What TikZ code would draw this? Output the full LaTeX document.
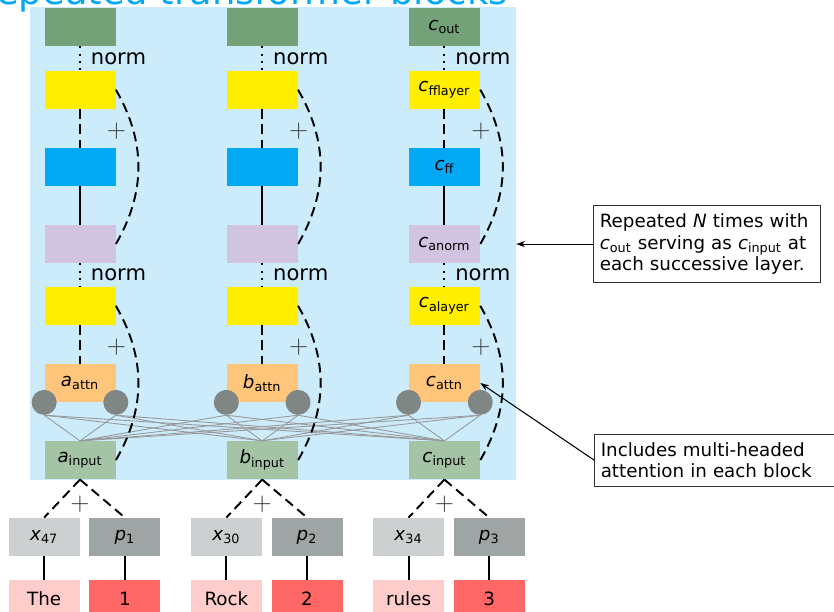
\documentclass[tikz,border=0pt]{standalone}
\usepackage{fontspec}
\setmainfont{DejaVu Sans}
\usepackage{xcolor}
\definecolor{outgreen}{RGB}{116,162,120}
\definecolor{layeryellow}{RGB}{255,238,0}
\definecolor{ffblue}{RGB}{3,169,244}
\definecolor{normlilac}{RGB}{209,196,225}
\definecolor{attnorange}{RGB}{255,198,123}
\definecolor{inputgreen}{RGB}{165,196,165}
\definecolor{toklight}{RGB}{204,208,209}
\definecolor{posgray}{RGB}{159,164,164}
\definecolor{wordpink}{RGB}{255,204,204}
\definecolor{numred}{RGB}{255,102,102}
\definecolor{headgray}{RGB}{127,134,132}
\definecolor{bgblue}{RGB}{204,236,252}
\usepackage{tikz}
\usetikzlibrary{arrows.meta, positioning, calc, backgrounds}
\newcommand{\blockfont}{\fontsize{10.4}{12.4}\selectfont}
\newcommand{\vsub}[2]{\textit{#1}\textsubscript{#2}}
\tikzset{
  outbox/.style={fill=outgreen, minimum width=1.42cm, minimum height=0.76cm,
    inner sep=0pt, font=\blockfont},
  layerbox/.style={fill=layeryellow, minimum width=1.42cm, minimum height=0.76cm,
    inner sep=0pt, font=\blockfont},
  ffbox/.style={fill=ffblue, minimum width=1.42cm, minimum height=0.76cm,
    inner sep=0pt, font=\blockfont},
  anormbox/.style={fill=normlilac, minimum width=1.42cm, minimum height=0.76cm,
    inner sep=0pt, font=\blockfont},
  attnbox/.style={fill=attnorange, minimum width=1.42cm, minimum height=0.76cm,
    inner sep=0pt, font=\blockfont},
  inputbox/.style={fill=inputgreen, minimum width=1.42cm, minimum height=0.76cm,
    inner sep=0pt, font=\blockfont},
  tokbox/.style={fill=toklight, minimum width=1.42cm, minimum height=0.76cm,
    inner sep=0pt, font=\blockfont},
  posbox/.style={fill=posgray, minimum width=1.42cm, minimum height=0.76cm,
    inner sep=0pt, font=\blockfont},
  wordbox/.style={fill=wordpink, minimum width=1.42cm, minimum height=0.74cm,
    inner sep=0pt, font=\blockfont},
  numbox/.style={fill=numred, minimum width=1.42cm, minimum height=0.74cm,
    inner sep=0pt, font=\blockfont},
  headdot/.style={circle, fill=headgray, minimum size=0.5cm, inner sep=0pt},
  notebox/.style={draw=black!80, fill=white, line width=0.6pt, text width=4.3cm,
    align=left, inner xsep=0.12cm, inner ysep=0.16cm, font=\blockfont},
  titletext/.style={font=\fontsize{21}{21}\selectfont, text=ffblue, inner sep=0pt},
  plussign/.style={font=\fontsize{15}{15}\selectfont, inner sep=0pt, text=black!80},
  plusmark/.style={plussign, xshift=0.73cm, yshift=-0.06cm},
  normlabel/.style={font=\fontsize{12}{12}\selectfont, inner sep=0pt, right=0.2cm},
  resline/.style={line width=1.1pt, dash pattern=on 5.5pt off 3.2pt},
  normline/.style={line width=1.1pt, dash pattern=on 1.1pt off 3.1pt},
  plainline/.style={line width=1.1pt},
  fanline/.style={line width=0.5pt, color=black!40},
  notearrow/.style={-{Stealth[length=5pt,width=3.5pt]}, line width=0.6pt}
}

\begin{document}
\begin{tikzpicture}
  \useasboundingbox (0,0) rectangle (16.68,-12.24);

  % column a
  \node[outbox] (aout) at (1.60,-0.54) {};
  \node[layerbox, below=0.48cm of aout]    (afflayer) {};
  \node[ffbox,    below=0.77cm of afflayer] (aff)     {};
  \node[anormbox, below=0.77cm of aff]      (anorm)   {};
  \node[layerbox, below=0.46cm of anorm]    (aalayer) {};
  \node[attnbox,  below=0.77cm of aalayer]  (aattn)   {\vsub{a}{attn}};
  \node[inputbox, below=0.77cm of aattn]    (ain)     {\vsub{a}{input}};

  % column b
  \node[outbox,   right=2.21cm of aout]     (bout)    {};
  \node[layerbox, below=0.48cm of bout]     (bfflayer) {};
  \node[ffbox,    below=0.77cm of bfflayer] (bff)     {};
  \node[anormbox, below=0.77cm of bff]      (bnorm)   {};
  \node[layerbox, below=0.46cm of bnorm]    (balayer) {};
  \node[attnbox,  below=0.77cm of balayer]  (battn)   {\vsub{b}{attn}};
  \node[inputbox, below=0.77cm of battn]    (bin)     {\vsub{b}{input}};

  % column c
  \node[outbox,   right=2.21cm of bout]     (cout)    {\vsub{c}{out}};
  \node[layerbox, below=0.48cm of cout]     (cfflayer) {\vsub{c}{fflayer}};
  \node[ffbox,    below=0.77cm of cfflayer] (cff)     {\vsub{c}{ff}};
  \node[anormbox, below=0.77cm of cff]      (cnorm)   {\vsub{c}{anorm}};
  \node[layerbox, below=0.46cm of cnorm]    (calayer) {\vsub{c}{alayer}};
  \node[attnbox,  below=0.77cm of calayer]  (cattn)   {\vsub{c}{attn}};
  \node[inputbox, below=0.77cm of cattn]    (cin)     {\vsub{c}{input}};

  % attention heads
  \node[headdot] (ahl) at (aattn.south west) {};
  \node[headdot] (ahr) at (aattn.south east) {};
  \node[headdot] (bhl) at (battn.south west) {};
  \node[headdot] (bhr) at (battn.south east) {};
  \node[headdot] (chl) at (cattn.south west) {};
  \node[headdot] (chr) at (cattn.south east) {};

  \foreach \h in {ahl,ahr,bhl,bhr,chl,chr}
    \foreach \i in {ain,bin,cin}
      \draw[fanline] (\h.south) -- (\i.north);

  % background panel and title
  \coordinate (bgnw) at ($(aout.north west)+(-0.28,0.02)$);
  \coordinate (bgse) at ($(cin.south east)+(0.72,0)$);
  \begin{scope}[on background layer]
    \node[titletext, anchor=base east] (title) at (10.16,-0.09)
      {Repeated transformer blocks};
    \fill[bgblue] (bgnw) rectangle (bgse);
  \end{scope}

  % block connectors
  \draw[normline]  (aout) -- node[normlabel] {norm} (afflayer);
  \draw[resline]   (afflayer) -- node[plusmark] {$+$} (aff);
  \draw[plainline] (aff) -- (anorm);
  \draw[normline]  (anorm) -- node[normlabel] {norm} (aalayer);
  \draw[resline]   (aalayer) -- node[plusmark] {$+$} (aattn);
  \draw[resline]   (afflayer.east) to[out=-60,in=60] (anorm.east);
  \draw[resline]   (aalayer.east) to[out=-60,in=60] (ain.east);

  \draw[normline]  (bout) -- node[normlabel] {norm} (bfflayer);
  \draw[resline]   (bfflayer) -- node[plusmark] {$+$} (bff);
  \draw[plainline] (bff) -- (bnorm);
  \draw[normline]  (bnorm) -- node[normlabel] {norm} (balayer);
  \draw[resline]   (balayer) -- node[plusmark] {$+$} (battn);
  \draw[resline]   (bfflayer.east) to[out=-60,in=60] (bnorm.east);
  \draw[resline]   (balayer.east) to[out=-60,in=60] (bin.east);

  \draw[normline]  (cout) -- node[normlabel] {norm} (cfflayer);
  \draw[resline]   (cfflayer) -- node[plusmark] {$+$} (cff);
  \draw[plainline] (cff) -- (cnorm);
  \draw[normline]  (cnorm) -- node[normlabel] {norm} (calayer);
  \draw[resline]   (calayer) -- node[plusmark] {$+$} (cattn);
  \draw[resline]   (cfflayer.east) to[out=-60,in=60] (cnorm.east);
  \draw[resline]   (calayer.east) to[out=-60,in=60] (cin.east);

  % token + position embeddings
  \node[tokbox, anchor=north east] (ax) at ([yshift=-0.76cm]ain.south) {\vsub{x}{47}};
  \node[posbox,  right=0.18cm of ax] (ap)    {\vsub{p}{1}};
  \node[wordbox, below=0.47cm of ax] (aword) {The};
  \node[numbox,  below=0.47cm of ap] (anum)  {1};

  \node[tokbox, anchor=north east] (bx) at ([yshift=-0.76cm]bin.south) {\vsub{x}{30}};
  \node[posbox,  right=0.18cm of bx] (bp)    {\vsub{p}{2}};
  \node[wordbox, below=0.47cm of bx] (bword) {Rock};
  \node[numbox,  below=0.47cm of bp] (bnum)  {2};

  \node[tokbox, anchor=north east] (cx) at ([yshift=-0.76cm]cin.south) {\vsub{x}{34}};
  \node[posbox,  right=0.18cm of cx] (cp)    {\vsub{p}{3}};
  \node[wordbox, below=0.47cm of cx] (cword) {rules};
  \node[numbox,  below=0.47cm of cp] (cnum)  {3};

  \node[plussign] (aplus) at ([yshift=-0.5cm]ain.south) {$+$};
  \node[plussign] (bplus) at ([yshift=-0.5cm]bin.south) {$+$};
  \node[plussign] (cplus) at ([yshift=-0.5cm]cin.south) {$+$};

  \draw[resline] (ain.south) -- (ax.north);
  \draw[resline] (ain.south) -- (ap.north);
  \draw[resline] (bin.south) -- (bx.north);
  \draw[resline] (bin.south) -- (bp.north);
  \draw[resline] (cin.south) -- (cx.north);
  \draw[resline] (cin.south) -- (cp.north);
  \draw[plainline] (ax) -- (aword);
  \draw[plainline] (ap) -- (anum);
  \draw[plainline] (bx) -- (bword);
  \draw[plainline] (bp) -- (bnum);
  \draw[plainline] (cx) -- (cword);
  \draw[plainline] (cp) -- (cnum);

  % notes
  \node[notebox, right=2.26cm of cnorm] (repnote)
    {Repeated \textit{N} times with\\ \vsub{c}{out} serving as \vsub{c}{input} at\\ each successive layer.};
  \node[notebox, text width=4.9cm, right=2.28cm of cin] (attnnote)
    {Includes multi-headed\\ attention in each block};
  \draw[notearrow] (repnote.west) -- (repnote.west -| bgse);
  \draw[notearrow] (attnnote.west) -- (cattn.east);

\end{tikzpicture}
\end{document}
